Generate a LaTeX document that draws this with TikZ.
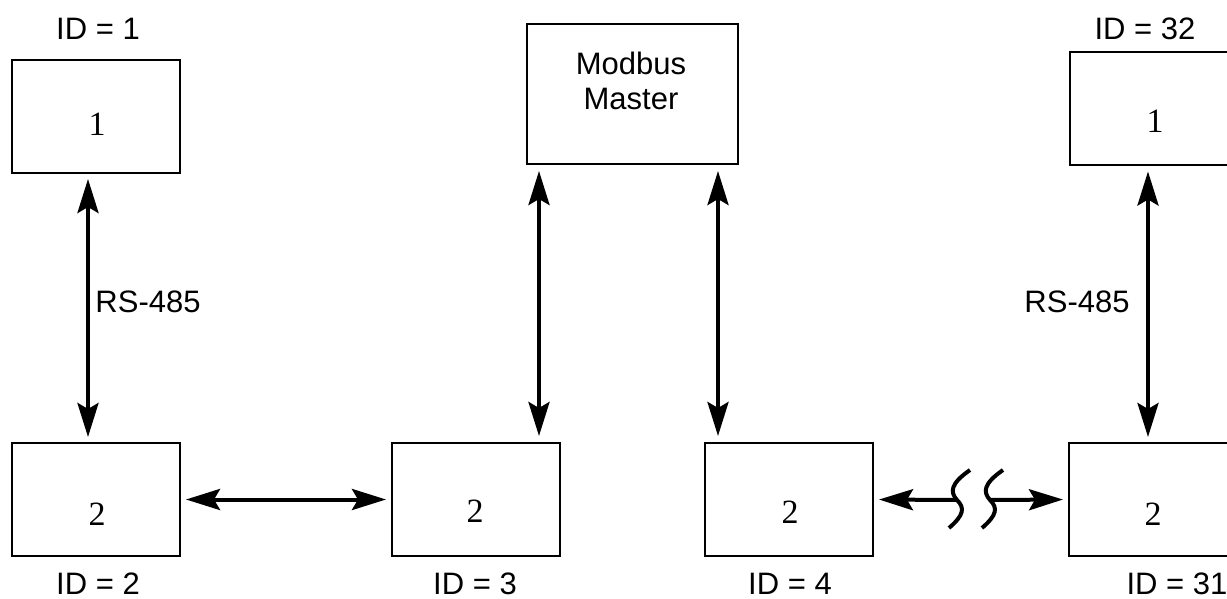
\documentclass[tikz,border=0pt]{standalone}
\usepackage{fontspec}
\setmainfont{Liberation Serif}
\setsansfont{Liberation Sans}
\usetikzlibrary{arrows.meta}

\tikzset{
	unit/.style={draw, line width=1pt, minimum width=84pt, minimum height=56.5pt, inner sep=0pt},
	idtag/.style={font=\sffamily\fontsize{15.5}{17.5}\selectfont},
	num/.style={font=\fontsize{17}{19}\selectfont},
	link/.style={<->, line width=2pt, shorten <=2.5pt, shorten >=2.5pt},
}

\begin{document}
\begin{tikzpicture}[x=0.5pt, y=-0.5pt, >={Stealth[length=17pt, width=10.5pt, inset=3pt]}]
	\useasboundingbox (0,0) rectangle (1227,599);
	\clip (0,0) rectangle (1227,599);
	% master and the slave units
	\node[unit, minimum width=105.5pt, minimum height=70pt] (master) at (632.5,94) {};
	\node[idtag, align=center] (mtext) at (631,81) {Modbus\\Master};
	\node[unit] (a1) at (96,116.5) {};
	\node[unit] (b2) at (96,499.5) {};
	\node[unit] (b3) at (476,499.5) {};
	\node[unit] (b4) at (789,499.5) {};
	\node[unit] (b31) at (1153,499.5) {};
	\node[unit] (a32) at (1154,109) {};
	% numbers inside the units
	\node[num] (na1) at (97,124) {1};
	\node[num] (na32) at (1155,121) {1};
	\node[num] (nb2) at (97,514) {2};
	\node[num] (nb3) at (475,511) {2};
	\node[num] (nb4) at (790,512) {2};
	\node[num] (nb31) at (1153,514) {2};
	% addresses
	\node[idtag] (id1) at (98,29) {ID = 1};
	\node[idtag] (id32) at (1145,29) {ID = 32};
	\node[idtag] (id2) at (98,584) {ID = 2};
	\node[idtag] (id3) at (475,584) {ID = 3};
	\node[idtag] (id4) at (790,584) {ID = 4};
	\node[idtag] (id31) at (1177,584) {ID = 31};
	\node[idtag] (rs1) at (148,302) {RS-485};
	\node[idtag] (rs2) at (1077,302) {RS-485};
	% bus links
	\draw[link] ([xshift=-4pt]a1.south) -- ([xshift=-4pt]a1.south |- b2.north);
	\draw[link] ([xshift=-3pt]a32.south) -- ([xshift=-3pt]a32.south |- b31.north);
	\draw[link, shorten <=3pt, shorten >=3pt] ([xshift=6.5pt]master.south west) -- ([xshift=6.5pt]master.south west |- b3.north);
	\draw[link, shorten <=3pt, shorten >=3pt] ([xshift=-10.5pt]master.south east) -- ([xshift=-10.5pt]master.south east |- b4.north);
	\draw[link] (b2.east) -- (b3.west);
	% broken line between ID 4 and ID 31
	\coordinate (brk1) at (957,500);
	\coordinate (brk2) at (991,500);
	\draw[->, line width=2pt, shorten >=2.5pt] (brk1) -- (b4.east);
	\draw[->, line width=2pt, shorten >=2.5pt] (brk2) -- (b31.west);
	\foreach \dx in {0,33} {
			\draw[line width=2pt] (970+\dx,470) .. controls (950+\dx,484) and (950+\dx,492) .. (957+\dx,500)
			.. controls (965+\dx,508) and (964+\dx,515) .. (949+\dx,528);
		}
\end{tikzpicture}
\end{document}
